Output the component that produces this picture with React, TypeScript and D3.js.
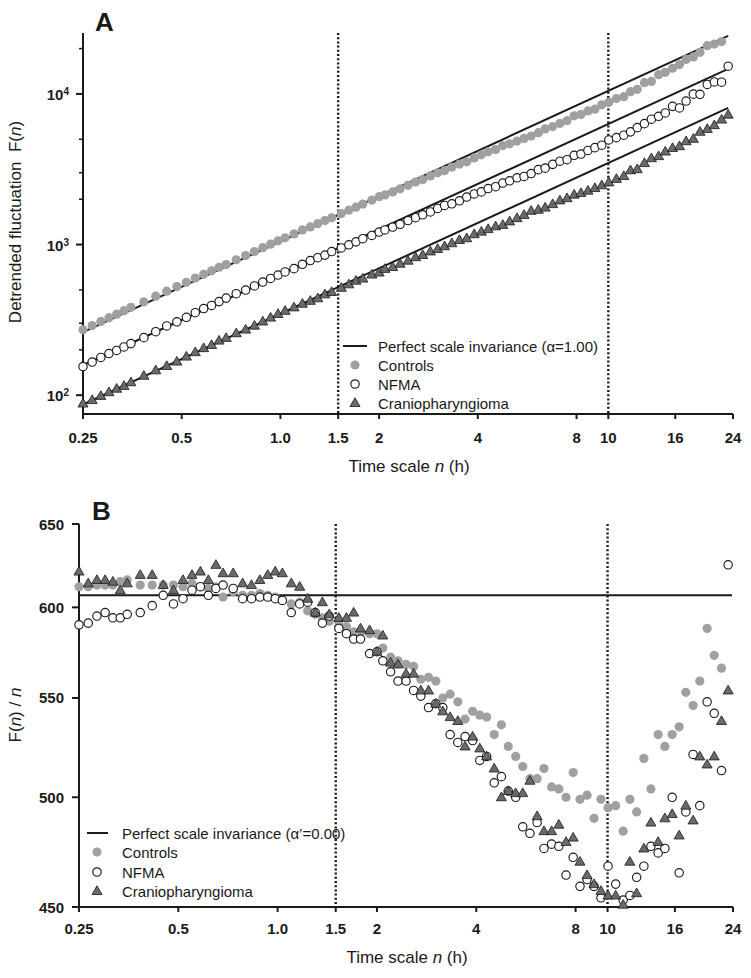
import React from "react";
import * as d3 from "d3";

// ---------- shared data ----------
// DFA box sizes (minutes), read from marker x positions
const boxMinutes = [
  15, 16, 17, 18, 19, 20, 21, 23, 25, 27, 29, 31, 33, 35, 37, 39, 41, 44, 47, 50,
  53, 56, 59, 62, 66, 70, 74, 78, 82, 86, 92, 97, 102, 107, 114, 120, 125, 132, 139, 147,
  155, 163, 172, 181, 190, 200, 211, 222, 234, 246, 258, 272, 286, 300, 316, 332, 349, 367, 385, 406,
  427, 449, 472, 495, 520, 546, 573, 602, 635, 669, 701, 735, 773, 812, 854, 895, 942, 989, 1036, 1090,
  1142, 1202, 1263, 1329, 1392,
];
const xTickValues = [0.25, 0.5, 1, 1.5, 2, 4, 8, 10, 16, 24];
const xTickLabels = ["0.25", "0.5", "1.0", "1.5", "2", "4", "8", "10", "16", "24"];
const scaleBreaks = [1.5, 10];
const seriesNames = ["Controls", "NFMA", "Craniopharyngioma"];

// ---------- panel A: F(n) ----------
const controlsF = [
  272, 290, 309, 327, 345, 364, 383, 417, 454, 490, 526, 562, 600, 634, 669, 707, 736, 793, 845, 899,
  954, 1006, 1058, 1109, 1176, 1250, 1310, 1376, 1442, 1507, 1607, 1691, 1770, 1856, 1974, 2078, 2135, 2235, 2346, 2472,
  2602, 2702, 2857, 2995, 3094, 3268, 3423, 3542, 3762, 3940, 4125, 4276, 4538, 4663, 4865, 5062, 5259, 5530, 5859, 6070,
  6371, 6647, 7155, 7312, 7713, 7920, 8465, 8822, 9324, 9586, 10356, 10728, 11877, 12116, 13425, 13910, 14809, 15664, 16961, 17619,
  18899, 20924, 21425, 22269,
];
const nfmaF = [
  155, 166, 178, 189, 198, 209, 220, 241, 264, 288, 307, 329, 353, 376, 394, 418, 441, 472, 499, 531,
  564, 596, 627, 658, 692, 740, 783, 818, 851, 898, 950, 996, 1042, 1093, 1149, 1211, 1251, 1307, 1364, 1443,
  1508, 1577, 1646, 1738, 1818, 1864, 1952, 2066, 2169, 2237, 2355, 2421, 2561, 2649, 2774, 2833, 2959, 3144, 3217, 3407,
  3576, 3658, 3911, 3989, 4218, 4400, 4567, 4946, 5128, 5320, 5600, 5975, 6351, 6800, 7107, 7479, 8269, 8074, 8967, 9970,
  9944, 11564, 12018, 11969, 15274,
];
const cranioF = [
  88, 92.8, 98.9, 104.7, 110.4, 115.2, 121.8, 134.5, 146.2, 156.3, 167.1, 180.4, 193, 205.3, 215.3, 230.3, 240.1, 257.7, 272.6, 289.5,
  308.4, 327.4, 346.1, 363.1, 382.8, 404.7, 422.9, 439.9, 467.1, 484.2, 516.2, 544.3, 575.2, 594.4, 632.1, 651.8, 689.6, 709.5, 745.8, 781.8,
  824.3, 853, 900.1, 935.3, 974.6, 1020, 1072, 1101, 1172, 1218, 1267, 1321, 1351, 1425, 1498, 1574, 1675, 1702, 1760, 1856,
  1964, 2032, 2145, 2198, 2279, 2373, 2474, 2587, 2729, 2850, 3112, 3166, 3476, 3743, 3864, 4143, 4378, 4503, 4854, 5035,
  5610, 5859, 6204, 6754, 7285,
];
// F(1 h) of each slope-1 reference line (controls, NFMA, craniopharyngioma)
const referenceLevelsA = [1048, 632, 348];
const aMajorTicks = [100, 1000, 10000];
const aMajorExponents = ["2", "3", "4"];
const aMinorTicks = [200, 300, 500, 2000, 3000, 5000, 20000];

// ---------- panel B: F(n)/n ----------
const controlsB = [
  612, 612, 613, 613, 613, 615, 616, 613, 613, 613, 613, 612, 614, 612, 611, 612, 606, 609, 607, 607,
  608, 607, 606, 604, 602, 603, 598, 596, 594, 592, 590, 589, 586, 586, 585, 585, 577, 572, 570, 568,
  567, 560, 561, 559, 550, 552, 548, 539, 543, 541, 540, 531, 536, 525, 520, 515, 509, 509, 514, 505,
  504, 500, 512, 499, 501, 490, 499, 495, 496, 484, 499, 493, 519, 504, 531, 525, 531, 535, 553, 546,
  559, 588, 573, 566,
];
const nfmaB = [
  590, 591, 595, 597, 594, 594, 596, 597, 601, 607, 602, 605, 610, 612, 607, 611, 613, 611, 605, 605,
  606, 606, 605, 604, 597, 602, 603, 597, 591, 595, 588, 585, 582, 582, 574, 575, 570, 564, 559, 559,
  554, 551, 545, 547, 545, 531, 527, 530, 528, 518, 520, 507, 510, 503, 500, 486, 483, 488, 476, 478,
  477, 464, 472, 459, 462, 459, 454, 468, 460, 453, 455, 463, 468, 477, 474, 476, 500, 465, 493, 521,
  496, 548, 542, 513, 625,
];
const cranioB = [
  621, 614, 616, 616, 615, 610, 614, 619, 619, 613, 610, 616, 619, 621, 616, 625, 620, 620, 614, 613,
  616, 619, 621, 620, 614, 612, 605, 597, 603, 596, 594, 594, 597, 588, 587, 575, 584, 569, 568, 563,
  563, 554, 554, 547, 543, 540, 538, 525, 530, 524, 520, 514, 500, 503, 502, 502, 508, 491, 484, 484,
  487, 479, 481, 470, 464, 460, 457, 455, 455, 451, 470, 456, 476, 488, 479, 490, 492, 482, 496, 489,
  520, 516, 520, 538, 554,
];
const referenceLevelB = 607;
const bTicks = [450, 500, 550, 600, 650];

// ---------- drawing ----------
const FONT = "'Liberation Sans', Arial, Helvetica, sans-serif";
const GREY = "#a0a0a0";
const TRI_FILL = "#6a6a6a";
const INK = "#1a1a1a";

type Kind = "dot" | "open" | "tri";
const kinds: Kind[] = ["dot", "open", "tri"];
const triPath = d3.symbol(d3.symbolTriangle, 44)() as string;

function Marker({ kind, x, y }: { kind: Kind; x: number; y: number }) {
  if (kind === "dot") return <circle cx={x} cy={y} r={4.6} fill={GREY} />;
  if (kind === "open")
    return <circle cx={x} cy={y} r={4.2} fill="#fff" stroke={INK} strokeWidth={1.15} />;
  return (
    <path d={triPath} transform={`translate(${x},${y + 0.6})`} fill={TRI_FILL} stroke={INK} strokeWidth={0.8} />
  );
}

function XAxis({ x, y, labelY, titleY }: { x: d3.ScaleLogarithmic<number, number>; y: number; labelY: number; titleY: number }) {
  const [r0, r1] = x.range();
  return (
    <g>
      <line x1={r0} x2={r1} y1={y} y2={y} stroke={INK} strokeWidth={2} />
      {xTickValues.map((t, i) => (
        <g key={i}>
          <line x1={x(t)} x2={x(t)} y1={y} y2={y + 5} stroke={INK} strokeWidth={2} />
          <text x={x(t)} y={labelY} textAnchor="middle" fontFamily={FONT} fontWeight="bold" fontSize={15} fill={INK}>
            {xTickLabels[i]}
          </text>
        </g>
      ))}
      <text x={(r0 + r1) / 2 + 1} y={titleY} textAnchor="middle" fontFamily={FONT} fontSize={17} fill={INK}>
        Time scale <tspan fontStyle="italic">n</tspan> (h)
      </text>
    </g>
  );
}

function Dotted({ x, y0, y1 }: { x: number; y0: number; y1: number }) {
  return <line x1={x} x2={x} y1={y0} y2={y1} stroke={INK} strokeWidth={2.4} strokeDasharray="2 2.2" />;
}

export default function App() {
  const hours = boxMinutes.map((m) => m / 60);
  const nFirst = hours[0];
  const nLast = hours[hours.length - 1];

  // Panel A scales
  const xA = d3.scaleLog().domain([0.25, 24]).range([83, 733]);
  const yA = d3.scaleLog().domain([75, 25000]).range([414, 34]);
  // Panel B scales
  const xB = d3.scaleLog().domain([0.25, 24]).range([79, 733]);
  const yB = d3.scaleLog().domain([450, 650]).range([907, 524]);

  const seriesA = [controlsF, nfmaF, cranioF];
  const seriesB = [controlsB, nfmaB, cranioB];

  const lineA = d3
    .line<[number, number]>()
    .x((d) => xA(d[0]))
    .y((d) => yA(d[1]));

  const legendA = { lineX0: 343, lineX1: 367, markX: 355, textX: 378, rows: [346, 365, 384, 403] };
  const legendB = { lineX0: 87, lineX1: 108, markX: 97, textX: 122, rows: [833, 852, 872, 891] };

  return (
    <svg
      width={751}
      height={978}
      viewBox="0 0 751 978"
      style={{ position: "absolute", left: 0, top: 0, background: "#fff" }}
      fontFamily={FONT}
    >
      <rect width={751} height={978} fill="#fff" />

      {/* ================= Panel A ================= */}
      <text x={95} y={31} fontFamily={FONT} fontWeight="bold" fontSize={26} fill={INK}>
        A
      </text>
      {scaleBreaks.map((b) => (
        <Dotted key={"da" + b} x={xA(b)} y0={33} y1={414} />
      ))}
      {/* y axis */}
      <line x1={83} x2={83} y1={33} y2={414} stroke={INK} strokeWidth={2} />
      {aMajorTicks.map((t, i) => (
        <g key={"am" + t}>
          <line x1={76} x2={83} y1={yA(t)} y2={yA(t)} stroke={INK} strokeWidth={2} />
          <text x={69} y={yA(t) + 6} textAnchor="end" fontFamily={FONT} fontWeight="bold" fontSize={15} fill={INK}>
            10
            <tspan dy={-5} fontSize={10}>
              {aMajorExponents[i]}
            </tspan>
          </text>
        </g>
      ))}
      {aMinorTicks.map((t) => (
        <line key={"an" + t} x1={79} x2={83} y1={yA(t)} y2={yA(t)} stroke={INK} strokeWidth={1.5} />
      ))}
      <text
        transform={`translate(21,222) rotate(-90)`}
        textAnchor="middle"
        fontFamily={FONT}
        fontSize={17}
        fill={INK}
      >
        Detrended fluctuation{"\u00a0\u00a0"}F(<tspan fontStyle="italic">n</tspan>)
      </text>
      <XAxis x={xA} y={414} labelY={443} titleY={472} />

      {/* reference lines, slope 1 */}
      {referenceLevelsA.map((a, i) => (
        <path
          key={"ra" + i}
          d={lineA([
            [nFirst, a * nFirst],
            [nLast, a * nLast],
          ]) as string}
          fill="none"
          stroke={INK}
          strokeWidth={2}
        />
      ))}
      {seriesA.map((vals, s) => (
        <g key={"sa" + s}>
          {vals.map((v, i) => (
            <Marker key={i} kind={kinds[s]} x={xA(hours[i])} y={yA(v)} />
          ))}
        </g>
      ))}

      {/* legend A */}
      <line x1={legendA.lineX0} x2={legendA.lineX1} y1={legendA.rows[0]} y2={legendA.rows[0]} stroke={INK} strokeWidth={2} />
      <text x={legendA.textX} y={legendA.rows[0] + 6} fontFamily={FONT} fontSize={15} fill={INK}>
        Perfect scale invariance (α=1.00)
      </text>
      {seriesNames.map((name, i) => (
        <g key={"la" + i}>
          <Marker kind={kinds[i]} x={legendA.markX} y={legendA.rows[i + 1]} />
          <text x={legendA.textX} y={legendA.rows[i + 1] + 6} fontFamily={FONT} fontSize={15} fill={INK}>
            {name}
          </text>
        </g>
      ))}

      {/* ================= Panel B ================= */}
      <text x={92} y={520} fontFamily={FONT} fontWeight="bold" fontSize={26} fill={INK}>
        B
      </text>
      {scaleBreaks.map((b) => (
        <Dotted key={"db" + b} x={xB(b)} y0={524} y1={907} />
      ))}
      <line x1={79} x2={79} y1={524} y2={907} stroke={INK} strokeWidth={2} />
      {bTicks.map((t) => (
        <g key={"bt" + t}>
          <line x1={72} x2={79} y1={yB(t)} y2={yB(t)} stroke={INK} strokeWidth={2} />
          <text x={64} y={yB(t) + 5.5} textAnchor="end" fontFamily={FONT} fontWeight="bold" fontSize={15} fill={INK}>
            {t}
          </text>
        </g>
      ))}
      <text
        transform={`translate(21,715) rotate(-90)`}
        textAnchor="middle"
        fontFamily={FONT}
        fontSize={17}
        fill={INK}
      >
        F(<tspan fontStyle="italic">n</tspan>) / <tspan fontStyle="italic">n</tspan>
      </text>
      <XAxis x={xB} y={907} labelY={934} titleY={963} />

      <line
        x1={xB(0.25)}
        x2={xB(24) - 1}
        y1={yB(referenceLevelB)}
        y2={yB(referenceLevelB)}
        stroke={INK}
        strokeWidth={2}
      />
      {seriesB.map((vals, s) => (
        <g key={"sb" + s}>
          {vals.map((v, i) => (
            <Marker key={i} kind={kinds[s]} x={xB(hours[i])} y={yB(v)} />
          ))}
        </g>
      ))}

      {/* legend B */}
      <line x1={legendB.lineX0} x2={legendB.lineX1} y1={legendB.rows[0]} y2={legendB.rows[0]} stroke={INK} strokeWidth={2} />
      <text x={legendB.textX} y={legendB.rows[0] + 6} fontFamily={FONT} fontSize={15} fill={INK}>
        Perfect scale invariance (α’=0.00)
      </text>
      {seriesNames.map((name, i) => (
        <g key={"lb" + i}>
          <Marker kind={kinds[i]} x={legendB.markX} y={legendB.rows[i + 1]} />
          <text x={legendB.textX} y={legendB.rows[i + 1] + 6} fontFamily={FONT} fontSize={15} fill={INK}>
            {name}
          </text>
        </g>
      ))}
    </svg>
  );
}
